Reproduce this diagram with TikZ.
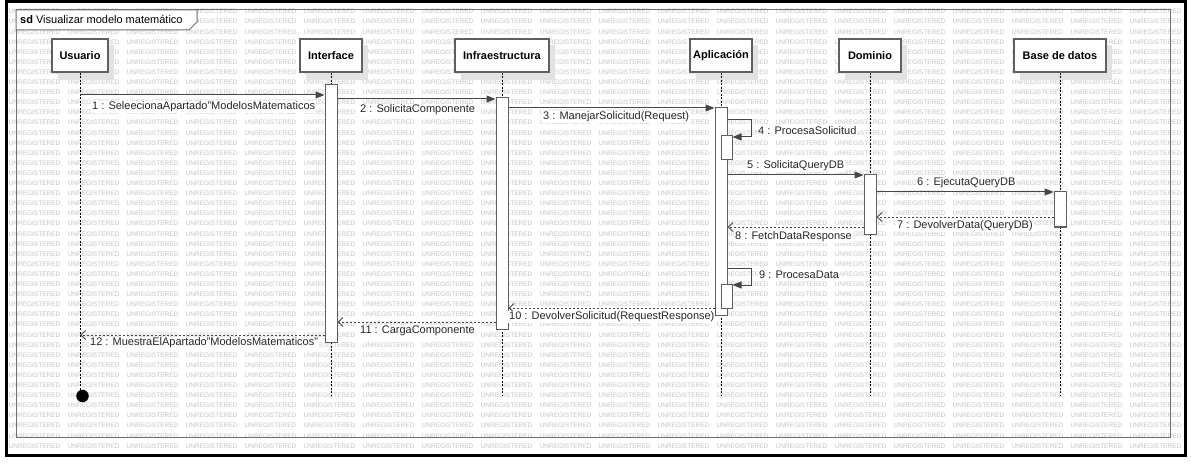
\documentclass[tikz,border=0pt]{standalone}
\usepackage{fontspec}
\setmainfont{Liberation Sans}
\usetikzlibrary{arrows.meta}

\definecolor{wmgray}{RGB}{196,196,196}
\definecolor{linegray}{RGB}{70,70,70}
\definecolor{boxgray}{RGB}{95,95,95}
\definecolor{framegray}{RGB}{110,110,110}
\definecolor{shadowgray}{RGB}{226,226,226}

% background watermark row
\newcommand\wmword{\makebox[59pt][l]{UNREGISTERED}}
\newcommand\wmline{\wmword\wmword\wmword\wmword\wmword\wmword\wmword\wmword\wmword\wmword\wmword\wmword\wmword\wmword\wmword\wmword\wmword\wmword\wmword\makebox[53pt][l]{UNREGISTERED}}

% activation bar: name, x, top, bottom
\newcommand\actbar[4]{%
  \node[actbox, minimum height={#4-#3}] (#1) at (#2,{(#3+#4)/2}) {};}

\begin{document}
\begin{tikzpicture}[x=1pt,y=-1pt,
  wm/.style={font=\fontsize{6.5}{7}\selectfont, text=wmgray, inner sep=0pt, anchor=west},
  head/.style={draw=boxgray, fill=white, line width=1.1pt, font=\fontsize{11}{13}\selectfont\bfseries,
    minimum height=33pt, inner sep=0pt},
  headshadow/.style={fill=shadowgray, draw=none},
  actbox/.style={draw=boxgray, fill=white, line width=1pt, minimum width=12pt, inner sep=0pt},
  lifeline/.style={draw=black, line width=0.8pt, dash pattern=on 2pt off 1.5pt},
  call/.style={draw=linegray, line width=1pt, -{Triangle[length=9pt,width=7pt]}},
  reply/.style={draw=linegray, line width=0.9pt, dash pattern=on 2pt off 2pt,
    -{Straight Barb[length=5pt,width=9pt]}},
  msg/.style={font=\fontsize{11}{13}\selectfont, text=black!85, fill=white, inner sep=1pt, anchor=west},
]
\useasboundingbox (0,0) rectangle (1191,465);
\fill[white] (0,0) rectangle (1191,465);

% watermark text
\foreach \k in {1,...,44}
  \node[wm] (wm\k) at (8.5,{1.5+10.1*\k}) {\wmline};

% sd frame
\draw[framegray, line width=1pt] (16,10) rectangle (1170,437);
\draw[framegray, line width=1pt, fill=white] (16,10) -- (197,10) -- (197,22) -- (189,30) -- (16,30) -- cycle;
\node[anchor=west, font=\fontsize{11}{13}\selectfont, inner sep=0pt] (title) at (20,20)
  {\textbf{sd} Visualizar modelo matemático};

% lifeline heads with their shadows
\foreach \x/\w in {80/56, 331/62, 502/94, 721/62, 870/62, 1060/92}
  \fill[headshadow] ({\x-\w/2+6},45) rectangle ({\x+\w/2+6},80);
\node[head, minimum width=56pt] (usuario) at (80,55.5) {Usuario};
\node[head, minimum width=62pt] (interface) at (331,55.5) {Interface};
\node[head, minimum width=94pt] (infra) at (502,55.5) {Infraestructura};
\node[head, minimum width=62pt] (aplic) at (721,55.5) {Aplicación};
\node[head, minimum width=62pt] (dominio) at (870,55.5) {Dominio};
\node[head, minimum width=92pt] (bd) at (1060,55.5) {Base de datos};

% lifelines
\foreach \n in {usuario, interface, infra, aplic, dominio, bd}
  \draw[lifeline] (\n.south) -- (\n |- 0,395);
\node[circle, fill=black, minimum size=12.5pt, inner sep=0pt] (fin) at (82.5,396) {};

% activation bars
\actbar{actI}{331}{85}{342}
\actbar{actF}{502}{98}{329}
\actbar{actA}{721}{108}{315}
\actbar{actD}{870}{175}{234}
\actbar{actB}{1060}{192}{227}
\node[actbox, minimum width=11pt, minimum height=24pt] (actA2) at (726.5,148) {};
\node[actbox, minimum width=11pt, minimum height=24pt] (actA3) at (726.5,296) {};

% bend points of the self calls
\coordinate (s4) at (751,120);
\coordinate (s9) at (751,268);

% messages
\draw[call] (usuario |- 0,95) -- (actI.west |- 0,95);
\draw[call] (actI.east |- 0,99) -- (actF.west |- 0,99);
\draw[call] (actF.east |- 0,108) -- (actA.west |- 0,108);
\draw[call] (actA.east |- s4) -- (s4) -- (s4 |- 0,137) -- (actA2.east |- 0,137);
\draw[call] (actA.east |- 0,175) -- (actD.west |- 0,175);
\draw[call] (actD.east |- 0,192) -- (actB.west |- 0,192);
\draw[reply] (actB.west |- 0,217) -- (actD.east |- 0,217);
\draw[reply] (actD.west |- 0,227) -- (actA.east |- 0,227);
\draw[call] (actA.east |- s9) -- (s9) -- (s9 |- 0,285) -- (actA3.east |- 0,285);
\draw[reply] (actA.west |- 0,308) -- (actF.east |- 0,308);
\draw[reply] (actF.west |- 0,322) -- (actI.east |- 0,322);
\draw[reply] (actI.west |- 0,335) -- (usuario |- 0,335);

% message labels
\node[msg] (l1) at (91,107) {1 : SeleecionaApartado"ModelosMatematicos};
\node[msg] (l2) at (359,110) {2 : SolicitaComponente};
\node[msg] (l3) at (542,117) {3 : ManejarSolicitud(Request)};
\node[msg] (l4) at (757,131) {4 : ProcesaSolicitud};
\node[msg] (l5) at (746,166) {5 : SolicitaQueryDB};
\node[msg] (l6) at (916,183) {6 : EjecutaQueryDB};
\node[msg] (l7) at (896,226) {7 : DevolverData(QueryDB)};
\node[msg] (l8) at (734,237) {8 : FetchDataResponse};
\node[msg] (l9) at (758,275) {9 : ProcesaData};
\node[msg] (l10) at (508,317) {10 : DevolverSolicitud(RequestResponse)};
\node[msg] (l11) at (359,331) {11 : CargaComponente};
\node[msg] (l12) at (89,343) {12 : MuestraElApartado"ModelosMatematicos"};

% outer border
\draw[black, line width=3pt] (6,1.5) rectangle (1185,455.5);
\end{tikzpicture}
\end{document}
